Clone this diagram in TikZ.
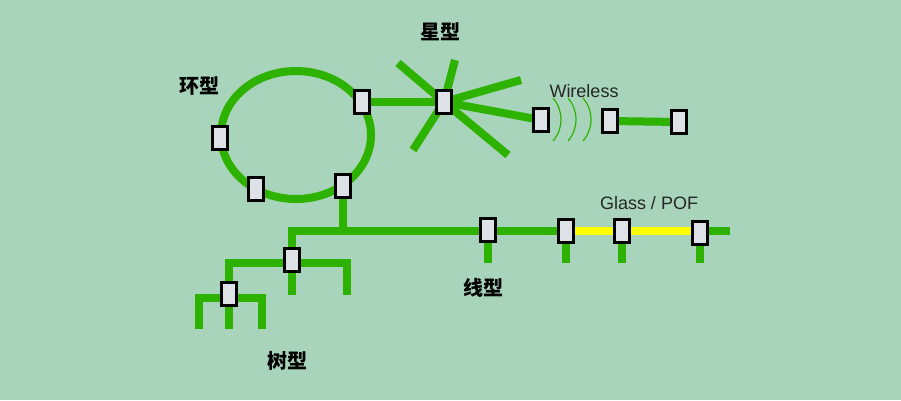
\documentclass[tikz,border=0pt]{standalone}
\usepackage{fontspec}
\setmainfont{Liberation Sans}
\newfontfamily\cjk{Noto Sans CJK SC}
\definecolor{bgmint}{HTML}{A7D4BA}
\definecolor{linkgreen}{HTML}{2DB200}
\definecolor{boxgrey}{HTML}{DEE1E5}
\definecolor{fibre}{HTML}{FFFF00}
\pgfdeclarelayer{bg}
\pgfdeclarelayer{cables}
\pgfsetlayers{bg,cables,main}
\tikzset{
  dev/.style={draw=black, line width=2.5pt, fill=boxgrey, minimum width=15pt, minimum height=23pt, inner sep=0pt},
  link/.style={draw=linkgreen, line width=8pt},
  glass/.style={draw=fibre, line width=8pt},
  wave/.style={draw=linkgreen, line width=1.2pt},
  kind/.style={font=\cjk\bfseries\fontsize{20}{20}\selectfont},
  tag/.style={anchor=base, text=black!85, font=\fontsize{18}{18}\selectfont}
}
\begin{document}
\begin{tikzpicture}[x=1pt,y=-1pt]
  \node[dev] (r1) at (220,138) {};
  \node[dev] (r2) at (256,189) {};
  \node[dev] (r3) at (343,186) {};
  \node[dev] (r4) at (362,102) {};
  \node[dev] (s0) at (444,102) {};
  \node[dev] (w1) at (541,120) {};
  \node[dev] (w2) at (610,121) {};
  \node[dev] (w3) at (679,122) {};
  \node[dev] (b1) at (488,230) {};
  \node[dev] (b2) at (566,231) {};
  \node[dev] (b3) at (622,231) {};
  \node[dev] (b4) at (700,233) {};
  \node[dev] (t1) at (292,260) {};
  \node[dev] (t2) at (229,294) {};

  \node[kind] (ring) at (199,86) {环型};
  \node[kind] (star) at (440,32) {星型};
  \node[kind] (line) at (483,288) {线型};
  \node[kind] (tree) at (287,361) {树型};
  \node[tag] (wl) at (584,97) {Wireless};
  \node[tag] (gp) at (649,209) {Glass / POF};

  \coordinate (busL) at (292,231);
  \coordinate (busR) at (730,231);
  \coordinate (stub) at (0,263);
  \coordinate (t1R) at (347,263);
  \coordinate (t1end) at (0,295);
  \coordinate (t2L) at (199,298);
  \coordinate (t2R) at (262,298);
  \coordinate (t2end) at (0,329);
  \coordinate (arm1) at (398,63);
  \coordinate (arm2) at (455,60);
  \coordinate (arm3) at (521,80);
  \coordinate (arm4) at (508,155);
  \coordinate (arm5) at (413,150);

  \begin{pgfonlayer}{bg}
    \fill[bgmint] (0,0) rectangle (901,400);
  \end{pgfonlayer}

  \begin{pgfonlayer}{cables}
    \draw[link] (296,135) ellipse [x radius=75, y radius=64];
    \draw[link] (r4) -- (s0);
    \draw[link] (s0.center) -- (w1.center);
    \foreach \a in {1,...,5}
      \draw[link] (s0.center) -- (arm\a);
    \foreach \dx in {0,15,30}
      \draw[wave] (553+\dx,98) to[bend left=40] (553+\dx,141);
    \draw[link] (w2) -- (w3);

    \draw[link] (r3) -- (r3 |- busL);
    \draw[link] (t1.center) -- (busL) -- (busR);
    \draw[glass] (b2 |- busL) -- (b4 |- busL);
    \foreach \b in {b1,b2,b3,b4}
      \draw[link] (\b) -- (\b |- stub);

    \draw[link] (t2.center) |- (t1R) -- (t1R |- t1end);
    \draw[link] (t1) -- (t1 |- t1end);
    \draw[link] (t2L |- t2end) -- (t2L) -- (t2R) -- (t2R |- t2end);
    \draw[link] (t2) -- (t2 |- t2end);
  \end{pgfonlayer}
\end{tikzpicture}
\end{document}
